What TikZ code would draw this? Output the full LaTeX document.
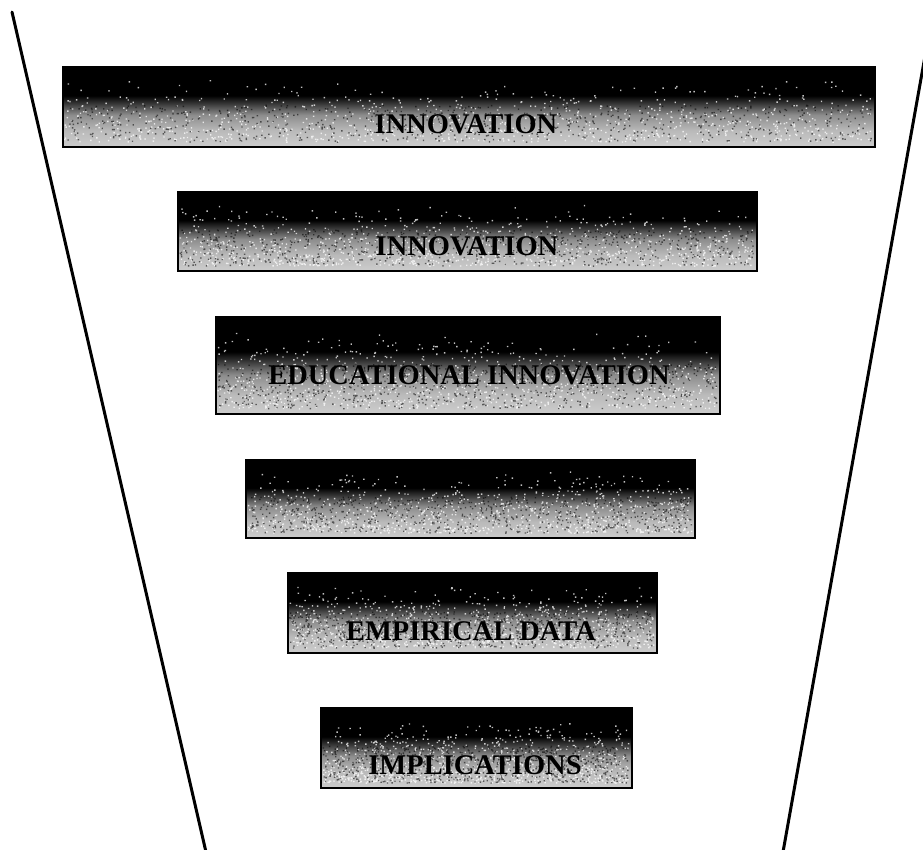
\documentclass[tikz,border=0pt]{standalone}
\usepackage{fontspec}
\setmainfont{Liberation Serif}
\pgfdeclareverticalshading{boxshade}{100bp}{%
  color(0bp)=(black!20); color(25bp)=(black!20); color(35bp)=(black!27);
  color(45bp)=(black!45); color(52bp)=(black!78); color(57bp)=(black);
  color(100bp)=(black)}
\tikzset{
  funnel/.style={line width=3pt, line cap=round},
  fbox/.style={rectangle, draw=black, line width=1.6pt, shading=boxshade, inner sep=0pt, anchor=north west},
  flabel/.style={font=\bfseries\fontsize{28.5}{30}\selectfont, text=black, inner sep=0pt}
}
\newcommand\boxgrain[4]{%
  \fill[white,opacity=0.75] \foreach \i in {1,...,950}{%
    ({#1+2+rnd*(#3-#1-5)},{#2+(0.16+0.82*sqrt(rnd))*(#4-#2-3)}) rectangle ++(1.4,1.4)};
  \fill[black,opacity=0.55] \foreach \i in {1,...,700}{%
    ({#1+2+rnd*(#3-#1-5)},{#2+(0.5+0.48*rnd)*(#4-#2-3)}) rectangle ++(1.4,1.4)};
}
\begin{document}
\begin{tikzpicture}[x=1pt,y=-1pt]
\useasboundingbox (0,0) rectangle (923,849);
\clip (0,0) rectangle (923,849);
\pgfmathsetseed{1234}
% funnel sides
\coordinate (lt) at (12,12);
\coordinate (lb) at (206,852);
\coordinate (rt) at (927,45);
\coordinate (rb) at (783,852);
\draw[funnel] (lt) -- (lb);
\draw[funnel] (rt) -- (rb);
% boxes
\node[fbox, minimum width=812pt, minimum height=80pt] (b1) at (62,66) {};
\boxgrain{62}{66}{874}{146}
\node[fbox, minimum width=579pt, minimum height=79pt] (b2) at (177,191) {};
\boxgrain{177}{191}{756}{270}
\node[fbox, minimum width=504pt, minimum height=97pt] (b3) at (215,316) {};
\boxgrain{215}{316}{719}{413}
\node[fbox, minimum width=449pt, minimum height=78pt] (b4) at (245,459) {};
\boxgrain{245}{459}{694}{537}
\node[fbox, minimum width=369pt, minimum height=80pt] (b5) at (287,572) {};
\boxgrain{287}{572}{656}{652}
\node[fbox, minimum width=311pt, minimum height=80pt] (b6) at (320,707) {};
\boxgrain{320}{707}{631}{787}
% labels
\node[flabel] (t1) at (466,124) {INNOVATION};
\node[flabel] (t2) at (467,246) {INNOVATION};
\node[flabel] (t3) at (469,375) {EDUCATIONAL INNOVATION};
\node[flabel] (t5) at (471,631) {EMPIRICAL DATA};
\node[flabel] (t6) at (475,765) {IMPLICATIONS};
\end{tikzpicture}
\end{document}
